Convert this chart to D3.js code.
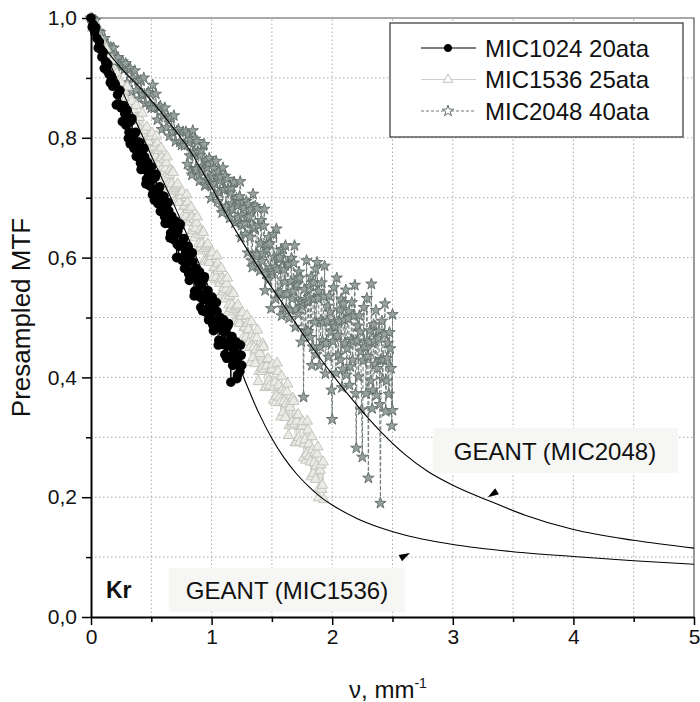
<!DOCTYPE html>
<html>
<head>
<meta charset="utf-8">
<script src="https://cdn.jsdelivr.net/npm/d3@7"></script>
<style>
body { margin: 0; background: #fff; }
text { font-family: "Liberation Sans", Arial, Helvetica, sans-serif; }
</style>
</head>
<body>
<div id="chart"></div>
<script>
// measured MTF, [nu (1/mm), presampled MTF]
const mic1024 = [
[0.00,1.000],[0.01,0.985],[0.02,0.989],[0.03,0.977],[0.04,0.984],[0.05,0.966],[0.06,0.950],[0.07,0.960],[0.08,0.948],[0.09,0.935],
[0.10,0.943],[0.11,0.916],[0.12,0.927],[0.13,0.913],[0.14,0.923],[0.15,0.906],[0.16,0.892],[0.17,0.902],[0.18,0.886],[0.19,0.888],
[0.20,0.890],[0.21,0.855],[0.22,0.872],[0.23,0.856],[0.24,0.879],[0.25,0.850],[0.26,0.827],[0.27,0.854],[0.28,0.840],[0.29,0.821],
[0.30,0.846],[0.31,0.799],[0.32,0.826],[0.33,0.805],[0.34,0.832],[0.35,0.803],[0.36,0.782],[0.37,0.809],[0.38,0.784],[0.39,0.793],
[0.40,0.792],[0.41,0.758],[0.42,0.775],[0.43,0.759],[0.44,0.782],[0.45,0.754],[0.46,0.731],[0.47,0.759],[0.48,0.744],[0.49,0.726],
[0.50,0.751],[0.51,0.705],[0.52,0.732],[0.53,0.712],[0.54,0.739],[0.55,0.711],[0.56,0.690],[0.57,0.718],[0.58,0.693],[0.59,0.703],
[0.60,0.702],[0.61,0.668],[0.62,0.685],[0.63,0.669],[0.64,0.692],[0.65,0.664],[0.66,0.641],[0.67,0.669],[0.68,0.654],[0.69,0.636],
[0.70,0.661],[0.71,0.600],[0.72,0.644],[0.73,0.619],[0.74,0.656],[0.75,0.620],[0.76,0.595],[0.77,0.632],[0.78,0.601],[0.79,0.615],
[0.80,0.616],[0.81,0.573],[0.82,0.596],[0.83,0.577],[0.84,0.608],[0.85,0.573],[0.86,0.544],[0.87,0.582],[0.88,0.564],[0.89,0.542],
[0.90,0.576],[0.91,0.517],[0.92,0.555],[0.93,0.530],[0.94,0.568],[0.95,0.532],[0.96,0.508],[0.97,0.545],[0.98,0.515],[0.99,0.529],
[1.00,0.531],[1.01,0.488],[1.02,0.512],[1.03,0.493],[1.04,0.525],[1.05,0.490],[1.06,0.462],[1.07,0.500],[1.08,0.483],[1.09,0.461],
[1.10,0.496],[1.11,0.438],[1.12,0.476],[1.13,0.452],[1.14,0.490],[1.15,0.455],[1.16,0.392],[1.17,0.468],[1.18,0.439],[1.19,0.454],
[1.20,0.456],[1.21,0.398],[1.22,0.439],[1.23,0.421],[1.24,0.454],[1.25,0.420]
]
const mic1024Fine = [
[0.305,0.834],[0.315,0.809],[0.325,0.790],[0.335,0.829],[0.345,0.804],[0.355,0.783],[0.365,0.808],[0.375,0.769],[0.385,0.788],[0.395,0.773],
[0.405,0.792],[0.415,0.747],[0.425,0.771],[0.435,0.748],[0.445,0.768],[0.455,0.723],[0.465,0.745],[0.475,0.750],[0.485,0.720],[0.495,0.735],
[0.505,0.739],[0.515,0.714],[0.525,0.696],[0.535,0.735],[0.545,0.711],[0.555,0.690],[0.565,0.716],[0.575,0.677],[0.585,0.697],[0.595,0.682],
[0.605,0.702],[0.615,0.657],[0.625,0.681],[0.635,0.658],[0.645,0.678],[0.655,0.633],[0.665,0.655],[0.675,0.660],[0.685,0.630],[0.695,0.645],
[0.705,0.653],[0.715,0.622],[0.725,0.600],[0.735,0.652],[0.745,0.622],[0.755,0.596],[0.765,0.631],[0.775,0.582],[0.785,0.609],[0.795,0.591],
[0.805,0.619],[0.815,0.562],[0.825,0.594],[0.835,0.566],[0.845,0.593],[0.855,0.536],[0.865,0.566],[0.875,0.574],[0.885,0.536],[0.895,0.557],
[0.905,0.563],[0.915,0.533],[0.925,0.511],[0.935,0.564],[0.945,0.534],[0.955,0.509],[0.965,0.544],[0.975,0.496],[0.985,0.523],[0.995,0.506],
[1.005,0.534],[1.015,0.478],[1.025,0.510],[1.035,0.483],[1.045,0.510],[1.055,0.454],[1.065,0.484],[1.075,0.493],[1.085,0.455],[1.095,0.477],
[1.105,0.483],[1.115,0.454],[1.125,0.432],[1.135,0.486],[1.145,0.456],[1.155,0.432],[1.165,0.467],[1.175,0.420],[1.185,0.447],[1.195,0.431],
[1.205,0.459],[1.215,0.404],[1.225,0.436],[1.235,0.410],[1.245,0.437]
]

const mic1536 = [
[0.0000,1.000],[0.0125,0.983],[0.0250,0.990],[0.0375,0.976],[0.0500,0.987],[0.0625,0.967],[0.0750,0.950],[0.0875,0.962],
[0.1000,0.950],[0.1125,0.936],[0.1250,0.949],[0.1375,0.917],[0.1500,0.932],[0.1625,0.916],[0.1750,0.929],[0.1875,0.910],
[0.2000,0.894],[0.2125,0.908],[0.2250,0.891],[0.2375,0.895],[0.2500,0.892],[0.2625,0.869],[0.2750,0.877],[0.2875,0.865],
[0.3000,0.885],[0.3125,0.856],[0.3250,0.834],[0.3375,0.861],[0.3500,0.847],[0.3625,0.828],[0.3750,0.854],[0.3875,0.807],
[0.4000,0.834],[0.4125,0.813],[0.4250,0.841],[0.4375,0.812],[0.4500,0.791],[0.4625,0.818],[0.4750,0.794],[0.4875,0.803],
[0.5000,0.802],[0.5125,0.767],[0.5250,0.785],[0.5375,0.768],[0.5500,0.791],[0.5625,0.762],[0.5750,0.740],[0.5875,0.767],
[0.6000,0.752],[0.6125,0.733],[0.6250,0.758],[0.6375,0.711],[0.6500,0.738],[0.6625,0.717],[0.6750,0.744],[0.6875,0.715],
[0.7000,0.694],[0.7125,0.721],[0.7250,0.696],[0.7375,0.705],[0.7500,0.704],[0.7625,0.669],[0.7750,0.686],[0.7875,0.669],
[0.8000,0.692],[0.8125,0.663],[0.8250,0.640],[0.8375,0.667],[0.8500,0.652],[0.8625,0.633],[0.8750,0.658],[0.8875,0.611],
[0.9000,0.638],[0.9125,0.617],[0.9250,0.644],[0.9375,0.615],[0.9500,0.594],[0.9625,0.621],[0.9750,0.596],[0.9875,0.605],
[1.0000,0.602],[1.0125,0.567],[1.0250,0.584],[1.0375,0.567],[1.0500,0.590],[1.0625,0.561],[1.0750,0.538],[1.0875,0.565],
[1.1000,0.550],[1.1125,0.531],[1.1250,0.556],[1.1375,0.509],[1.1500,0.536],[1.1625,0.515],[1.1750,0.542],[1.1875,0.513],
[1.2000,0.492],[1.2125,0.519],[1.2250,0.494],[1.2375,0.503],[1.2500,0.502],[1.2625,0.467],[1.2750,0.484],[1.2875,0.467],
[1.3000,0.490],[1.3125,0.459],[1.3250,0.425],[1.3375,0.471],[1.3500,0.450],[1.3625,0.423],[1.3750,0.466],[1.3875,0.393],
[1.4000,0.440],[1.4125,0.410],[1.4250,0.456],[1.4375,0.414],[1.4500,0.384],[1.4625,0.430],[1.4750,0.394],[1.4875,0.412],
[1.5000,0.414],[1.5125,0.362],[1.5250,0.392],[1.5375,0.369],[1.5500,0.410],[1.5625,0.367],[1.5750,0.334],[1.5875,0.380],
[1.6000,0.360],[1.6125,0.333],[1.6250,0.376],[1.6375,0.303],[1.6500,0.350],[1.6625,0.319],[1.6750,0.365],[1.6875,0.322],
[1.7000,0.291],[1.7125,0.337],[1.7250,0.300],[1.7375,0.318],[1.7500,0.319],[1.7625,0.266],[1.7750,0.296],[1.7875,0.272],
[1.8000,0.312],[1.8125,0.268],[1.8250,0.234],[1.8375,0.279],[1.8500,0.258],[1.8625,0.230],[1.8750,0.272],[1.8875,0.199],
[1.9000,0.245],[1.9125,0.213],[1.9250,0.259],[1.9300,0.196]
]
const mic1536Fine = [
[0.50625,0.808],[0.51875,0.783],[0.53125,0.764],[0.54375,0.803],[0.55625,0.779],[0.56875,0.758],[0.58125,0.783],[0.59375,0.744],
[0.60625,0.764],[0.61875,0.749],[0.63125,0.768],[0.64375,0.723],[0.65625,0.746],[0.66875,0.723],[0.68125,0.742],[0.69375,0.697],
[0.70625,0.718],[0.71875,0.723],[0.73125,0.692],[0.74375,0.707],[0.75625,0.710],[0.76875,0.685],[0.78125,0.666],[0.79375,0.705],
[0.80625,0.680],[0.81875,0.659],[0.83125,0.684],[0.84375,0.645],[0.85625,0.664],[0.86875,0.649],[0.88125,0.668],[0.89375,0.623],
[0.90625,0.646],[0.91875,0.623],[0.93125,0.642],[0.94375,0.597],[0.95625,0.618],[0.96875,0.623],[0.98125,0.592],[0.99375,0.607],
[1.00625,0.608],[1.01875,0.583],[1.03125,0.564],[1.04375,0.603],[1.05625,0.578],[1.06875,0.557],[1.08125,0.582],[1.09375,0.543],
[1.10625,0.562],[1.11875,0.547],[1.13125,0.566],[1.14375,0.521],[1.15625,0.544],[1.16875,0.521],[1.18125,0.540],[1.19375,0.495],
[1.20625,0.516],[1.21875,0.521],[1.23125,0.490],[1.24375,0.505],[1.25625,0.508],[1.26875,0.483],[1.28125,0.464],[1.29375,0.503],
[1.30625,0.480],[1.31875,0.450],[1.33125,0.493],[1.34375,0.433],[1.35625,0.467],[1.36875,0.446],[1.38125,0.479],[1.39375,0.410],
[1.40625,0.450],[1.41875,0.416],[1.43125,0.451],[1.44375,0.383],[1.45625,0.419],[1.46875,0.431],[1.48125,0.386],[1.49375,0.413],
[1.50625,0.421],[1.51875,0.384],[1.53125,0.358],[1.54375,0.424],[1.55625,0.387],[1.56875,0.358],[1.58125,0.402],[1.59375,0.342],
[1.60625,0.377],[1.61875,0.356],[1.63125,0.389],[1.64375,0.320],[1.65625,0.360],[1.66875,0.326],[1.68125,0.360],[1.69375,0.291],
[1.70625,0.327],[1.71875,0.338],[1.73125,0.292],[1.74375,0.319],[1.75625,0.326],[1.76875,0.289],[1.78125,0.262],[1.79375,0.327],
[1.80625,0.289],[1.81875,0.259],[1.83125,0.301],[1.84375,0.240],[1.85625,0.274],[1.86875,0.252],[1.88125,0.284],[1.89375,0.215],
[1.90625,0.254],[1.91875,0.220]
]

const mic2048 = [
[0.0000,1.000],[0.0125,0.999],[0.0250,0.988],[0.0375,0.996],[0.0500,0.971],[0.0625,0.978],[0.0750,0.976],[0.0875,0.953],
[0.1000,0.961],[0.1125,0.966],[0.1250,0.948],[0.1375,0.955],[0.1500,0.938],[0.1625,0.951],[0.1750,0.938],[0.1875,0.950],
[0.2000,0.927],[0.2125,0.934],[0.2250,0.934],[0.2375,0.922],[0.2500,0.918],[0.2625,0.927],[0.2750,0.914],[0.2875,0.924],
[0.3000,0.892],[0.3125,0.913],[0.3250,0.916],[0.3375,0.877],[0.3500,0.900],[0.3625,0.912],[0.3750,0.879],[0.3875,0.896],
[0.4000,0.865],[0.4125,0.896],[0.4250,0.873],[0.4375,0.900],[0.4500,0.857],[0.4625,0.873],[0.4750,0.876],[0.4875,0.855],
[0.5000,0.850],[0.5125,0.888],[0.5250,0.850],[0.5375,0.873],[0.5500,0.830],[0.5625,0.850],[0.5750,0.853],[0.5875,0.814],
[0.6000,0.837],[0.6125,0.850],[0.6250,0.817],[0.6375,0.834],[0.6500,0.803],[0.6625,0.833],[0.6750,0.810],[0.6875,0.837],
[0.7000,0.794],[0.7125,0.811],[0.7250,0.814],[0.7375,0.793],[0.7500,0.788],[0.7625,0.810],[0.7750,0.787],[0.7875,0.810],
[0.8000,0.756],[0.8125,0.792],[0.8250,0.798],[0.8375,0.738],[0.8500,0.776],[0.8625,0.798],[0.8750,0.747],[0.8875,0.776],
[0.9000,0.728],[0.9125,0.779],[0.9250,0.744],[0.9375,0.789],[0.9500,0.722],[0.9625,0.750],[0.9750,0.757],[0.9875,0.725],
[1.0000,0.719],[1.0125,0.758],[1.0250,0.723],[1.0375,0.761],[1.0500,0.694],[1.0625,0.729],[1.0750,0.735],[1.0875,0.675],
[1.1000,0.713],[1.1125,0.736],[1.1250,0.685],[1.1375,0.714],[1.1500,0.666],[1.1625,0.716],[1.1750,0.681],[1.1875,0.726],
[1.2000,0.659],[1.2125,0.687],[1.2250,0.694],[1.2375,0.727],[1.2500,0.654],[1.2625,0.692],[1.2750,0.657],[1.2875,0.694],
[1.3000,0.608],[1.3125,0.668],[1.3250,0.680],[1.3375,0.584],[1.3500,0.648],[1.3625,0.686],[1.3750,0.605],[1.3875,0.654],
[1.4000,0.578],[1.4125,0.662],[1.4250,0.607],[1.4375,0.681],[1.4500,0.573],[1.4625,0.621],[1.4750,0.634],[1.4875,0.583],
[1.5000,0.574],[1.5125,0.639],[1.5250,0.584],[1.5375,0.648],[1.5500,0.541],[1.5625,0.600],[1.5750,0.612],[1.5875,0.516],
[1.6000,0.580],[1.6125,0.620],[1.6250,0.539],[1.6375,0.589],[1.6500,0.513],[1.6625,0.599],[1.6750,0.544],[1.6875,0.620],
[1.7000,0.513],[1.7125,0.563],[1.7250,0.576],[1.7375,0.527],[1.7500,0.519],[1.7625,0.367],[1.7750,0.530],[1.7875,0.595],
[1.8000,0.477],[1.8125,0.552],[1.8250,0.568],[1.8375,0.451],[1.8500,0.531],[1.8625,0.581],[1.8750,0.592],[1.8875,0.544],
[1.9000,0.451],[1.9125,0.558],[1.9250,0.492],[1.9375,0.586],[1.9500,0.457],[1.9625,0.519],[1.9750,0.536],[1.9875,0.476],
[2.0000,0.330],[2.0125,0.550],[2.0250,0.485],[2.0375,0.566],[2.0500,0.437],[2.0625,0.513],[2.0750,0.531],[2.0875,0.414],
[2.1000,0.496],[2.1125,0.546],[2.1250,0.448],[2.1375,0.510],[2.1500,0.418],[2.1625,0.525],[2.1750,0.460],[2.1875,0.554],
[2.2000,0.282],[2.2125,0.486],[2.2250,0.503],[2.2375,0.443],[2.2500,0.267],[2.2625,0.517],[2.2750,0.451],[2.2875,0.532],
[2.3000,0.232],[2.3125,0.478],[2.3250,0.556],[2.3375,0.379],[2.3500,0.461],[2.3625,0.512],[2.3750,0.415],[2.3875,0.477],
[2.4000,0.190],[2.4125,0.494],[2.4250,0.429],[2.4375,0.523],[2.4500,0.394],[2.4625,0.457],[2.4750,0.475],[2.4875,0.415],
[2.5000,0.505],[2.5000,0.345]
]
const mic2048Fine = [
[0.80625,0.805],[0.81875,0.770],[0.83125,0.745],[0.84375,0.812],[0.85625,0.777],[0.86875,0.749],[0.88125,0.794],[0.89375,0.736],
[0.90625,0.771],[0.91875,0.752],[0.93125,0.787],[0.94375,0.720],[0.95625,0.762],[0.96875,0.730],[0.98125,0.766],[0.99375,0.699],
[1.00625,0.736],[1.01875,0.749],[1.03125,0.705],[1.04375,0.734],[1.05625,0.743],[1.06875,0.708],[1.08125,0.683],[1.09375,0.750],
[1.10625,0.714],[1.11875,0.686],[1.13125,0.731],[1.14375,0.673],[1.15625,0.709],[1.16875,0.690],[1.18125,0.725],[1.19375,0.658],
[1.20625,0.699],[1.21875,0.666],[1.23125,0.702],[1.24375,0.634],[1.25625,0.671],[1.26875,0.683],[1.28125,0.639],[1.29375,0.667],
[1.30625,0.689],[1.31875,0.634],[1.33125,0.595],[1.34375,0.706],[1.35625,0.651],[1.36875,0.607],[1.38125,0.682],[1.39375,0.590],
[1.40625,0.624],[1.41875,0.594],[1.43125,0.653],[1.44375,0.545],[1.45625,0.614],[1.46875,0.563],[1.48125,0.623],[1.49375,0.515],
[1.50625,0.578],[1.51875,0.601],[1.53125,0.531],[1.54375,0.580],[1.55625,0.597],[1.56875,0.542],[1.58125,0.503],[1.59375,0.614],
[1.60625,0.559],[1.61875,0.515],[1.63125,0.591],[1.64375,0.499],[1.65625,0.560],[1.66875,0.531],[1.68125,0.591],[1.69375,0.484],
[1.70625,0.555],[1.71875,0.505],[1.73125,0.566],[1.74375,0.459],[1.75625,0.524],[1.76875,0.547],[1.78125,0.478],[1.79375,0.527],
[1.80625,0.534],[1.81875,0.467],[1.83125,0.420],[1.84375,0.558],[1.85625,0.492],[1.86875,0.438],[1.88125,0.532],[1.89375,0.420],
[1.90625,0.495],[1.91875,0.461],[1.93125,0.535],[1.94375,0.406],[1.95625,0.494],[1.96875,0.434],[1.98125,0.509],[1.99375,0.379],
[2.00625,0.460],[2.01875,0.491],[2.03125,0.407],[2.04375,0.470],[2.05625,0.494],[2.06875,0.429],[2.08125,0.383],[2.09375,0.523],
[2.10625,0.457],[2.11875,0.404],[2.13125,0.498],[2.14375,0.387],[2.15625,0.463],[2.16875,0.429],[2.18125,0.503],[2.19375,0.373],
[2.20625,0.461],[2.21875,0.401],[2.23125,0.476],[2.24375,0.346],[2.25625,0.428],[2.26875,0.458],[2.28125,0.373],[2.29375,0.435],
[2.30625,0.459],[2.31875,0.394],[2.33125,0.348],[2.34375,0.488],[2.35625,0.422],[2.36875,0.370],[2.38125,0.465],[2.39375,0.355],
[2.40625,0.430],[2.41875,0.397],[2.43125,0.472],[2.44375,0.343],[2.45625,0.432],[2.46875,0.372],[2.48125,0.448],[2.49375,0.319]
]

// GEANT simulations
const geant2048 = [
[0,1.0],[0.05,0.974],[0.1,0.955],[0.2,0.928],[0.3,0.905],[0.4,0.885],[0.5,0.862],[0.6,0.838],[0.7,0.812],
[0.8,0.785],[0.9,0.752],[1.0,0.717],[1.2,0.645],[1.4,0.58],[1.6,0.52],[1.8,0.46],[2.0,0.405],[2.2,0.355],
[2.4,0.31],[2.6,0.272],[2.8,0.242],[3.0,0.22],[3.3,0.194],[3.6,0.17],[4.0,0.146],[4.5,0.128],[5.0,0.115]
]
const geant1536 = [
[0,1.0],[0.05,0.972],[0.1,0.948],[0.2,0.905],[0.3,0.86],[0.4,0.815],[0.5,0.77],[0.6,0.727],[0.7,0.683],
[0.8,0.636],[0.9,0.588],[1.0,0.538],[1.1,0.487],[1.2,0.435],[1.3,0.383],[1.4,0.337],[1.5,0.298],[1.6,0.266],
[1.7,0.24],[1.8,0.219],[1.9,0.201],[2.0,0.187],[2.2,0.165],[2.4,0.149],[2.6,0.137],[2.8,0.128],[3.0,0.121],
[3.5,0.109],[4.0,0.101],[4.5,0.094],[5.0,0.088]
]

const legendNames = ["MIC1024 20ata", "MIC1536 25ata", "MIC2048 40ata"]
const xTicks = [0, 1, 2, 3, 4, 5]
const xMinor = [0.5, 1.5, 2.5, 3.5, 4.5]
const yTicks = [0, 0.2, 0.4, 0.6, 0.8, 1.0]
const yMinor = [0.1, 0.3, 0.5, 0.7, 0.9]

const byNu = (a, b) => a[0] - b[0]
const s1024 = mic1024.concat(mic1024Fine).sort(byNu)
const s1536 = mic1536.concat(mic1536Fine).sort(byNu)
const s2048 = mic2048.concat(mic2048Fine).sort(byNu)

const W = 700, H = 702
const svg = d3.select("#chart").append("svg").attr("width", W).attr("height", H)

const x = d3.scaleLinear().domain([0, 5]).range([91, 694])
const y = d3.scaleLinear().domain([0, 1]).range([617, 18])

// grid
svg.append("g").selectAll("line").data(xMinor.concat(xTicks.slice(1, 5))).join("line")
  .attr("x1", d => x(d)).attr("x2", d => x(d)).attr("y1", y(0)).attr("y2", y(1))
  .attr("stroke", "#a8a8a8").attr("stroke-dasharray", "1.5,2.5")
svg.append("g").selectAll("line").data(yMinor.concat(yTicks.slice(1, 5))).join("line")
  .attr("x1", x(0)).attr("x2", x(5)).attr("y1", d => y(d)).attr("y2", d => y(d))
  .attr("stroke", "#a8a8a8").attr("stroke-dasharray", "1.5,2.5")

// frame top/right
svg.append("path")
  .attr("d", `M${x(0)},${y(1)}H${x(5)}V${y(0)}`)
  .attr("fill", "none").attr("stroke", "#555").attr("stroke-width", 1.2)

const line = d3.line().x(d => x(d[0])).y(d => y(d[1]))

// MIC2048 stars
svg.append("path").datum(s2048).attr("d", line)
  .attr("fill", "none").attr("stroke", "#6f7b78").attr("stroke-width", 1).attr("stroke-dasharray", "4,2")
svg.append("g").selectAll("path").data(s2048).join("path")
  .attr("d", d3.symbol(d3.symbolStar, 40))
  .attr("transform", d => `translate(${x(d[0])},${y(d[1])})`)
  .attr("fill", "#97a29f").attr("stroke", "#66726f").attr("stroke-width", 1)

// MIC1536 triangles
svg.append("path").datum(s1536).attr("d", line)
  .attr("fill", "none").attr("stroke", "#cfd0ca").attr("stroke-width", 1)
svg.append("g").selectAll("path").data(s1536).join("path")
  .attr("d", d3.symbol(d3.symbolTriangle, 48))
  .attr("transform", d => `translate(${x(d[0])},${y(d[1])})`)
  .attr("fill", "#ebebe6").attr("stroke", "#c4c5be").attr("stroke-width", 1)

// MIC1024 circles
svg.append("path").datum(s1024).attr("d", line)
  .attr("fill", "none").attr("stroke", "#000").attr("stroke-width", 1)
svg.append("g").selectAll("circle").data(s1024).join("circle")
  .attr("cx", d => x(d[0])).attr("cy", d => y(d[1])).attr("r", 4.8).attr("fill", "#000")

// GEANT curves
const smooth = d3.line().x(d => x(d[0])).y(d => y(d[1])).curve(d3.curveMonotoneX)
;[geant2048, geant1536].forEach(c => {
  svg.append("path").datum(c).attr("d", smooth)
    .attr("fill", "none").attr("stroke", "#000").attr("stroke-width", 1.1)
})

// axes
const comma = d => d3.format(".1f")(d).replace(".", ",")
svg.append("g").attr("transform", `translate(${x(0)},0)`)
  .call(d3.axisLeft(y).tickValues(yTicks).tickSize(9).tickSizeOuter(0).tickPadding(5).tickFormat(comma))
svg.append("g").attr("transform", `translate(${x(0)},0)`)
  .call(d3.axisLeft(y).tickValues(yMinor).tickSize(5).tickSizeOuter(0).tickFormat(""))
  .call(g => g.select(".domain").remove())
svg.append("g").attr("transform", `translate(0,${y(0)})`)
  .call(d3.axisBottom(x).tickValues(xTicks).tickSize(8).tickSizeOuter(0).tickPadding(4).tickFormat(d3.format("d")))
svg.append("g").attr("transform", `translate(0,${y(0)})`)
  .call(d3.axisBottom(x).tickValues(xMinor).tickSize(5).tickSizeOuter(0).tickFormat(""))
  .call(g => g.select(".domain").remove())
svg.selectAll(".domain").attr("stroke", "#000").attr("stroke-width", 2)
svg.selectAll(".tick line").attr("stroke", "#000").attr("stroke-width", 1.5)
svg.selectAll(".tick text").attr("font-size", 21).attr("fill", "#111")
  .style("font-family", "'Liberation Sans', Arial, sans-serif")

// axis titles
svg.append("text").attr("transform", `translate(30,${y(0.5)}) rotate(-90)`)
  .attr("text-anchor", "middle").attr("font-size", 26).attr("fill", "#111").text("Presampled MTF")
const xt = svg.append("text").attr("x", 388).attr("y", 698)
  .attr("text-anchor", "middle").attr("font-size", 24).attr("fill", "#111")
xt.append("tspan").text("ν, mm")
xt.append("tspan").attr("dy", -10).attr("font-size", 14).text("-1")

// legend
const lg = svg.append("g")
lg.append("rect").attr("x", 390).attr("y", 23).attr("width", 293).attr("height", 114)
  .attr("fill", "#fff").attr("stroke", "#333").attr("stroke-width", 1.2)
const rows = [48, 79.5, 111]
const sw = [
  { stroke: "#000", dash: null, sym: d3.symbolCircle, fill: "#000", mstroke: "#000" },
  { stroke: "#cfd0ca", dash: null, sym: d3.symbolTriangle, fill: "#fff", mstroke: "#bfc0b9" },
  { stroke: "#6f7b78", dash: "3,2", sym: d3.symbolStar, fill: "#fff", mstroke: "#66726f" }
]
legendNames.forEach((n, i) => {
  const cy = rows[i]
  lg.append("line").attr("x1", 421).attr("x2", 476).attr("y1", cy).attr("y2", cy)
    .attr("stroke", sw[i].stroke).attr("stroke-width", 1.2).attr("stroke-dasharray", sw[i].dash)
  lg.append("path").attr("d", d3.symbol(sw[i].sym, 40)).attr("transform", `translate(448,${cy})`)
    .attr("fill", sw[i].fill).attr("stroke", sw[i].mstroke)
  lg.append("text").attr("x", 485).attr("y", cy).attr("dy", "0.36em")
    .attr("font-size", 24).attr("fill", "#111").text(n)
})

// annotations
svg.append("rect").attr("x", 433).attr("y", 428).attr("width", 245).attr("height", 45).attr("fill", "#f6f6f4")
svg.append("text").attr("x", 555).attr("y", 451).attr("dy", "0.36em").attr("text-anchor", "middle")
  .attr("font-size", 24).attr("fill", "#111").text("GEANT (MIC2048)")
svg.append("rect").attr("x", 169).attr("y", 568).attr("width", 236).attr("height", 44).attr("fill", "#f6f6f4")
svg.append("text").attr("x", 287).attr("y", 590).attr("dy", "0.36em").attr("text-anchor", "middle")
  .attr("font-size", 24).attr("fill", "#111").text("GEANT (MIC1536)")
svg.append("text").attr("x", 106).attr("y", 590).attr("dy", "0.36em")
  .attr("font-size", 23).attr("font-weight", "bold").attr("fill", "#111").text("Kr")

// arrowheads pointing at the GEANT curves
const arrows = [
  { nu: 3.29, v: 0.200, dx: -11, dy: 7 },
  { nu: 2.645, v: 0.107, dx: 11, dy: -6 }
]
arrows.forEach(a => {
  const tx = x(a.nu), ty = y(a.v)
  const len = Math.hypot(a.dx, a.dy), ux = a.dx / len, uy = a.dy / len
  const bx = tx - ux * 11, by = ty - uy * 11
  svg.append("path")
    .attr("d", `M${tx},${ty}L${bx - uy * 3.5},${by + ux * 3.5}L${bx + uy * 3.5},${by - ux * 3.5}Z`)
    .attr("fill", "#000")
})
</script>
</body>
</html>
